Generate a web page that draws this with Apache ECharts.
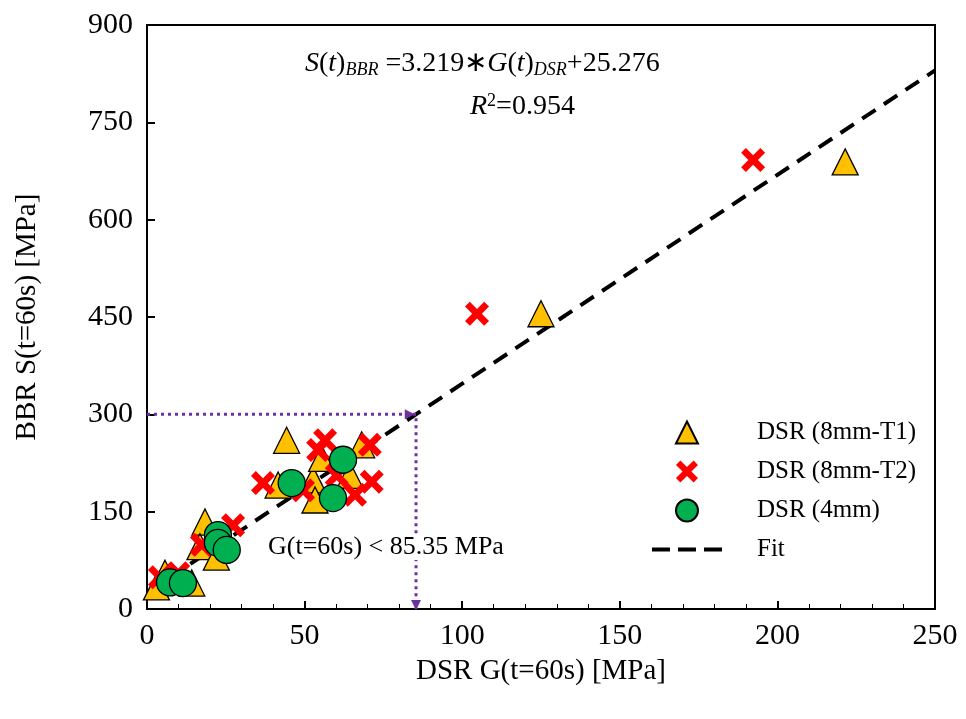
<!DOCTYPE html>
<html><head><meta charset="utf-8">
<script src="https://cdn.jsdelivr.net/npm/echarts@6/dist/echarts.min.js"></script>
<style>html,body{margin:0;background:#fff}#main{width:966px;height:719px}</style>
</head><body><div id="main"></div>
<script>
var t1 = [[44.3,260],[68.1,253],[64.4,206],[52.7,199],[41.6,191],[53.3,168],[55.4,232],[18.4,134],[16.8,96],[22,80],[5.7,55],[14.2,40],[3,34],[125,455],[221.5,689]];
var t2 = [[56.5,260],[54.3,245],[70.7,253],[36.8,194],[71.3,196],[66,176],[60.2,206],[49.5,183],[27.3,129],[17.4,99],[9.9,55],[4.1,49],[104.7,455],[192.3,692]];
var d4 = [[62.2,230],[45.9,194],[59,171],[22.5,114],[22.5,102],[25.3,91],[7.3,41],[11.4,40]];
var slope = 3.219, intercept = 25.276;
var fitX = [0, 250];
var limitG = 85.35, limitS = 300;

var font = 'Liberation Serif';
var cross = 'path://M4,0 L10,6 L16,0 L20,4 L14,10 L20,16 L16,20 L10,14 L4,20 L0,16 L6,10 L0,4 Z';
var myChart = echarts.init(document.getElementById('main'));
var option = {
  animation: false,
  textStyle: { fontFamily: font },
  grid: { left: 147, right: 31, top: 25, bottom: 110 },
  xAxis: {
    type: 'value', min: 0, max: 250, interval: 50,
    name: 'DSR G(t=60s) [MPa]', nameLocation: 'middle', nameGap: 48,
    nameTextStyle: { fontSize: 29, color: '#000', fontFamily: font },
    axisLine: { lineStyle: { color: '#000', width: 2 } },
    axisTick: { inside: true, length: 8, lineStyle: { width: 2 } },
    minorTick: { show: true, splitNumber: 5, length: 5, lineStyle: { color: '#000' } },
    axisLabel: { fontSize: 30, color: '#000', margin: 12, fontFamily: font },
    splitLine: { show: false }
  },
  yAxis: {
    type: 'value', min: 0, max: 900, interval: 150,
    name: 'BBR S(t=60s) [MPa]', nameLocation: 'middle', nameGap: 105,
    nameTextStyle: { fontSize: 29, color: '#000', fontFamily: font },
    axisLine: { lineStyle: { color: '#000', width: 2 } },
    axisTick: { inside: true, length: 8, lineStyle: { width: 2 } },
    axisLabel: { fontSize: 30, color: '#000', margin: 14, fontFamily: font },
    splitLine: { show: false }
  },
  legend: {
    orient: 'vertical', right: 45, top: 415, itemGap: 14, itemWidth: 70, itemHeight: 22,
    textStyle: { fontSize: 25, color: '#000', fontFamily: font, padding: [0, 0, 0, 30] },
    data: [
      { name: 'DSR (8mm-T1)', icon: 'path://M0,20 L10,0 L20,20 Z' },
      { name: 'DSR (8mm-T2)', icon: cross },
      { name: 'DSR (4mm)', icon: 'circle' },
      { name: 'Fit', icon: 'path://M0,9 L18,9 L18,13 L0,13 Z M26,9 L44,9 L44,13 L26,13 Z M52,9 L70,9 L70,13 L52,13 Z' }
    ]
  },
  graphic: [
    { type: 'rect', shape: { x: 147, y: 25, width: 788, height: 584 }, style: { fill: 'none', stroke: '#000', lineWidth: 2 }, silent: true },
    { type: 'text', left: 305, top: 50, style: {
      rich: {
        i: { fontFamily: font, fontStyle: 'italic', fontSize: 28 },
        n: { fontFamily: font, fontSize: 28 },
        s: { fontFamily: font, fontStyle: 'italic', fontSize: 18, verticalAlign: 'bottom', padding: [12, 0, 0, 0] }
      },
      text: '{i|S}{n|(}{i|t}{n|)}{s|BBR}{n| =3.219∗}{i|G}{n|(}{i|t}{n|)}{s|DSR}{n|+25.276}'
    } },
    { type: 'text', left: 470, top: 92, style: {
      rich: {
        i: { fontFamily: font, fontStyle: 'italic', fontSize: 28 },
        p: { fontFamily: font, fontSize: 18, verticalAlign: 'top', padding: [0, 0, 12, 0] },
        n: { fontFamily: font, fontSize: 28 }
      },
      text: '{i|R}{p|2}{n|=0.954}'
    } },
    { type: 'text', left: 268, top: 534, z: 100, style: { text: 'G(t=60s) < 85.35 MPa', fontFamily: font, fontSize: 26, fill: '#000', backgroundColor: '#fff' } }
  ],
  series: [
    { name: 'Fit', type: 'line', data: fitX.map(function (x) { return [x, slope * x + intercept]; }),
      symbol: 'none', z: 1, lineStyle: { color: '#000', width: 4, type: [16, 10] }, itemStyle: { color: '#000' } },
    { name: 'limit', type: 'line', data: [[0, limitS], [limitG, limitS], [limitG, 0]],
      symbol: 'none', z: 1, lineStyle: { color: '#7030a0', width: 3, type: [3, 4] },
      markPoint: { symbol: 'triangle', symbolSize: 10, itemStyle: { color: '#7030a0' }, label: { show: false },
        data: [{ coord: [limitG - 2, limitS], symbolRotate: -90 }, { coord: [limitG, 6], symbolRotate: 180 }] } },
    { name: 'DSR (8mm-T1)', type: 'scatter', data: t1, symbol: 'triangle', symbolSize: 26, z: 3,
      itemStyle: { color: '#ffc000', borderColor: '#000', borderWidth: 1.3, opacity: 1 } },
    { name: 'DSR (8mm-T2)', type: 'scatter', data: t2, z: 4, symbol: cross,
      symbolSize: 24, itemStyle: { color: '#ff0000', opacity: 1 } },
    { name: 'DSR (4mm)', type: 'scatter', data: d4, symbol: 'circle', symbolSize: 27, z: 5,
      itemStyle: { color: '#00b050', borderColor: '#000', borderWidth: 1.3, opacity: 1 } }
  ]
};
myChart.setOption(option);
</script></body></html>
